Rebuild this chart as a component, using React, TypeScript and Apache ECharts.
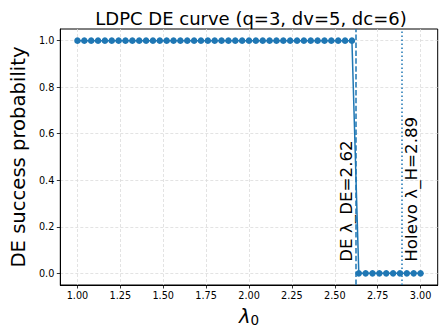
import React, { useEffect, useRef } from "react";
import * as echarts from "echarts";

const lambda0 = [
  1.0, 1.04, 1.08, 1.12, 1.16, 1.2, 1.24, 1.28, 1.32, 1.36, 1.4, 1.44, 1.48, 1.52, 1.56, 1.6, 1.64, 1.68, 1.72,
  1.76, 1.8, 1.84, 1.88, 1.92, 1.96, 2.0, 2.04, 2.08, 2.12, 2.16, 2.2, 2.24, 2.28, 2.32, 2.36, 2.4, 2.44, 2.48,
  2.52, 2.56, 2.6, 2.64, 2.68, 2.72, 2.76, 2.8, 2.84, 2.88, 2.92, 2.96, 3.0,
];
const successProb = [
  1, 1, 1, 1, 1, 1, 1, 1, 1, 1, 1, 1, 1, 1, 1, 1, 1, 1, 1, 1, 1, 1, 1, 1, 1, 1, 1, 1, 1, 1, 1, 1, 1, 1, 1, 1, 1,
  1, 1, 1, 1, 0, 0, 0, 0, 0, 0, 0, 0, 0, 0,
];
const xTicks = [1.0, 1.25, 1.5, 1.75, 2.0, 2.25, 2.5, 2.75, 3.0];
const yTicks = [0.0, 0.2, 0.4, 0.6, 0.8, 1.0];
const lambdaDE = 2.62;
const lambdaH = 2.89;
const titleText = "LDPC DE curve (q=3, dv=5, dc=6)";
const deLabel = "DE λ_DE=2.62";
const holevoLabel = "Holevo λ_H=2.89";

const BLUE = "#1f77b4";
const FONT = "DejaVu Sans";

export default function App() {
  const ref = useRef<HTMLDivElement>(null);
  useEffect(() => {
    if (!ref.current) return;
    const chart = echarts.init(ref.current, null, { renderer: "svg" });
    const gridLine = { show: true, lineStyle: { color: "#dcdcdc", type: [3, 2] as any, width: 0.8 } };
    chart.setOption({
      animation: false,
      backgroundColor: "#ffffff",
      title: {
        text: titleText,
        left: 246,
        top: 4,
        textAlign: "center",
        textStyle: { fontFamily: FONT, fontSize: 18, fontWeight: "normal", color: "#000" },
      },
      grid: {
        left: 55.5,
        right: 10.3,
        top: 29,
        bottom: 51,
        show: true,
        borderColor: "#000",
        borderWidth: 1,
        containLabel: false,
      },
      xAxis: {
        type: "value",
        min: 0.9,
        max: 3.1,
        name: "{a|λ}{b|0}",
        nameLocation: "middle",
        nameGap: 20,
        nameTextStyle: {
          rich: {
            a: { fontFamily: FONT, fontSize: 19.4, color: "#000", fontStyle: "italic" },
            b: { fontFamily: FONT, fontSize: 13.5, color: "#000", verticalAlign: "bottom", padding: [8, 0, 0, 0] },
          },
        },
        axisLine: { show: true, onZero: false, lineStyle: { color: "#000", width: 1 } },
        axisTick: { show: true, length: 3.5, customValues: xTicks, lineStyle: { color: "#000", width: 0.8 } },
        axisLabel: {
          customValues: xTicks,
          margin: 5,
          fontFamily: FONT,
          fontSize: 9.7,
          color: "#000",
          formatter: (v: number) => v.toFixed(2),
        },
        splitLine: gridLine,
      },
      yAxis: {
        type: "value",
        min: -0.05,
        max: 1.05,
        name: "DE success probability",
        nameLocation: "middle",
        nameGap: 23,
        nameTextStyle: { fontFamily: FONT, fontSize: 19.6, color: "#000" },
        axisLine: { show: true, onZero: false, lineStyle: { color: "#000", width: 1 } },
        axisTick: { show: true, length: 3.5, customValues: yTicks, lineStyle: { color: "#000", width: 0.8 } },
        axisLabel: {
          customValues: yTicks,
          margin: 6,
          fontFamily: FONT,
          fontSize: 9.7,
          color: "#000",
          formatter: (v: number) => v.toFixed(1),
        },
        splitLine: gridLine,
      },
      series: [
        {
          type: "line",
          data: lambda0.map((x, i) => [x, successProb[i]]),
          symbol: "circle",
          symbolSize: 6.5,
          showSymbol: true,
          lineStyle: { color: BLUE, width: 1.5 },
          itemStyle: { color: BLUE },
          z: 3,
          markLine: {
            silent: true,
            symbol: ["none", "none"],
            label: { show: false },
            data: [
              { xAxis: lambdaDE, lineStyle: { color: BLUE, width: 1.5, type: [5.5, 2.4] as any } },
              { xAxis: lambdaH, lineStyle: { color: BLUE, width: 1.5, type: [1.5, 2.5] as any } },
            ],
          },
        },
      ],
    });
    const pDE = chart.convertToPixel({ gridIndex: 0 }, [lambdaDE, 0.05]) as number[];
    const pH = chart.convertToPixel({ gridIndex: 0 }, [lambdaH, 0.05]) as number[];
    chart.setOption({
      graphic: [
        {
          type: "text",
          x: pDE[0] - 1,
          y: pDE[1],
          rotation: Math.PI / 2,
          style: {
            text: deLabel,
            fontFamily: FONT,
            fontSize: 16.7,
            fill: "#000",
            textAlign: "left",
            textVerticalAlign: "bottom",
          },
        },
        {
          type: "text",
          x: pH[0] + 1,
          y: pH[1],
          rotation: Math.PI / 2,
          style: {
            text: holevoLabel,
            fontFamily: FONT,
            fontSize: 16.7,
            fill: "#000",
            textAlign: "left",
            textVerticalAlign: "top",
          },
        },
      ],
    });
    return () => chart.dispose();
  }, []);
  return <div ref={ref} style={{ width: 448, height: 336, position: "absolute", left: 0, top: 0 }} />;
}
